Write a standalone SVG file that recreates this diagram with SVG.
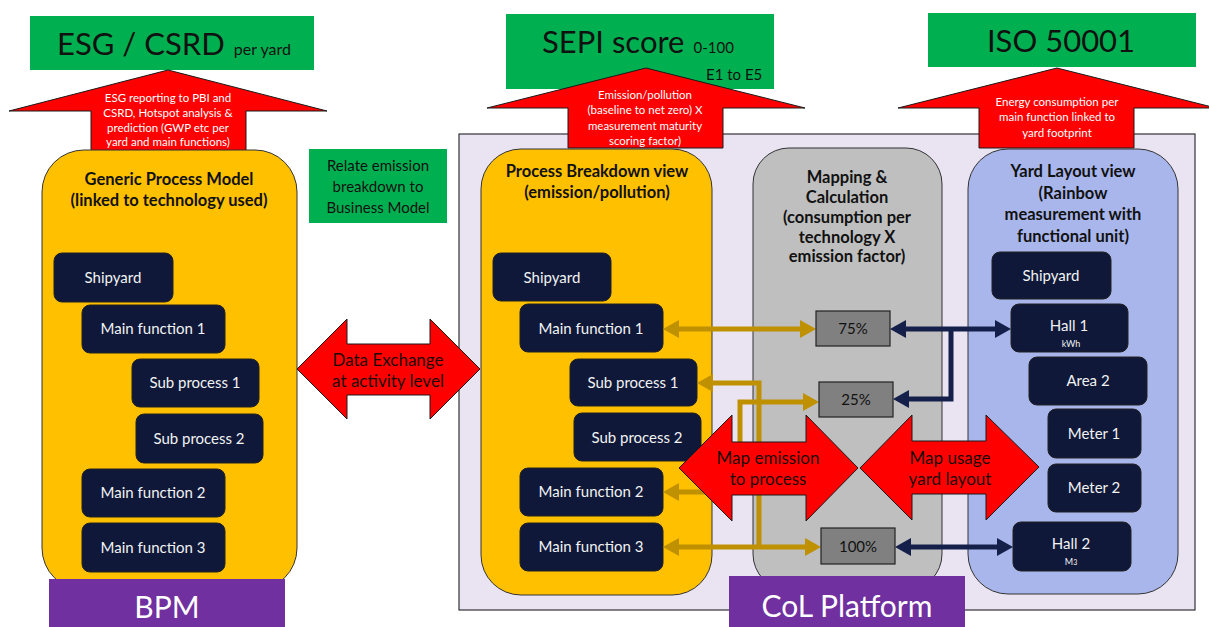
<svg xmlns="http://www.w3.org/2000/svg" width="1209" height="627" viewBox="0 0 1209 627">
  <style>
    text { font-family: "Lato", "Liberation Sans", sans-serif; }
    .green { fill: #00B050; }
    .upArrow { fill: #FF0000; stroke: #1a1a1a; stroke-width: 1; }
    .dblArrow { fill: #FF0000; stroke: #1a1a1a; stroke-width: 1; }
    .arrowTxt { fill: #FFFFFF; font-size: 11.5px; text-anchor: middle; }
    .bigTxt { fill: #111111; font-size: 31px; }
    .midTxt { fill: #111111; font-size: 15px; }
    .title { fill: #111111; font-size: 16.5px; font-weight: bold; text-anchor: middle; }
    .node rect { fill: #0F1839; stroke: #222222; stroke-width: 1; }
    .node text { fill: #F2F2F2; font-size: 15px; text-anchor: middle; }
    .node text.unit { font-size: 9px; }
    .pct rect { fill: #808080; stroke: #222222; stroke-width: 1.2; }
    .pct text { fill: #111111; font-size: 15px; text-anchor: middle; }
    .dblTxt { fill: #1a0a0a; font-size: 17px; text-anchor: middle; }
    .purple { fill: #7030A0; }
    .purpleTxt { fill: #FFFFFF; font-size: 30px; text-anchor: middle; }
    .gold { fill: none; stroke: #BF9000; stroke-width: 5; }
    .navy { fill: none; stroke: #14204A; stroke-width: 5; }
  </style>
  <defs>
    <marker id="headGold" markerUnits="userSpaceOnUse" markerWidth="18" markerHeight="20" refX="2" refY="10" orient="auto-start-reverse">
      <path d="M0,1 L16,10 L0,19 z" fill="#BF9000"/>
    </marker>
    <marker id="headNavy" markerUnits="userSpaceOnUse" markerWidth="18" markerHeight="20" refX="2" refY="10" orient="auto-start-reverse">
      <path d="M0,1 L16,10 L0,19 z" fill="#14204A"/>
    </marker>
  </defs>

  <rect x="0" y="0" width="1209" height="627" fill="#FFFFFF"/>

  <!-- platform background -->
  <rect x="459" y="134" width="736" height="476" fill="#EAE4F2" stroke="#333333" stroke-width="1.2"/>

  <!-- standards headers -->
  <g id="esg">
    <rect class="green" x="30" y="16" width="284" height="54"/>
    <text class="bigTxt" x="57" y="55">ESG / CSRD<tspan font-size="16px" dx="9">per yard</tspan></text>
  </g>
  <g id="sepi">
    <rect class="green" x="506" y="14" width="268" height="75"/>
    <text class="bigTxt" x="542" y="53">SEPI score<tspan font-size="15px" dx="9">0-100</tspan></text>
    <text class="midTxt" x="706" y="80">E1 to E5</text>
  </g>
  <g id="iso">
    <rect class="green" x="928" y="13" width="268" height="54"/>
    <text class="bigTxt" x="1061" y="52" text-anchor="middle">ISO 50001</text>
  </g>

  <!-- upward reporting arrows -->
  <g id="arrow-esg">
    <polygon class="upArrow" points="168,70 327,111 246,111 246,152 91,152 91,111 9,111"/>
    <text class="arrowTxt" x="168" y="102">ESG reporting to PBI and</text>
    <text class="arrowTxt" x="168" y="117">CSRD, Hotspot analysis &amp;</text>
    <text class="arrowTxt" x="168" y="132">prediction (GWP etc per</text>
    <text class="arrowTxt" x="168" y="146">yard and main functions)</text>
  </g>
  <g id="arrow-sepi">
    <polygon class="upArrow" points="646,68 805,108 723,108 723,148 568,148 568,108 487,108"/>
    <text class="arrowTxt" x="645" y="99">Emission/pollution</text>
    <text class="arrowTxt" x="645" y="114">(baseline to net zero) X</text>
    <text class="arrowTxt" x="645" y="130">measurement maturity</text>
    <text class="arrowTxt" x="645" y="145">scoring factor)</text>
  </g>
  <g id="arrow-iso">
    <polygon class="upArrow" points="1057,68 1216,108 1134,108 1134,148 979,148 979,108 898,108"/>
    <text class="arrowTxt" x="1057" y="106">Energy consumption per</text>
    <text class="arrowTxt" x="1057" y="121">main function linked to</text>
    <text class="arrowTxt" x="1057" y="137">yard footprint</text>
  </g>

  <!-- generic process model -->
  <g id="generic-process-model">
    <rect x="42" y="150" width="255" height="440" rx="42" fill="#FFC000" stroke="#333333" stroke-width="1"/>
    <text class="title" x="169" y="185">Generic Process Model</text>
    <text class="title" x="169" y="206">(linked to technology used)</text>
  </g>
  <g id="gpm-shipyard" class="node"><rect x="54" y="253" width="119" height="49" rx="8"/><text x="113" y="283">Shipyard</text></g>
  <g id="gpm-main1" class="node"><rect x="82" y="305" width="143" height="48" rx="8"/><text x="153" y="334">Main function 1</text></g>
  <g id="gpm-sub1" class="node"><rect x="132" y="359" width="127" height="48" rx="8"/><text x="195" y="388">Sub process 1</text></g>
  <g id="gpm-sub2" class="node"><rect x="136" y="414" width="127" height="49" rx="8"/><text x="199" y="444">Sub process 2</text></g>
  <g id="gpm-main2" class="node"><rect x="82" y="469" width="143" height="48" rx="8"/><text x="153" y="498">Main function 2</text></g>
  <g id="gpm-main3" class="node"><rect x="82" y="523" width="143" height="49" rx="8"/><text x="153" y="553">Main function 3</text></g>

  <g id="bpm">
    <rect class="purple" x="49" y="579" width="236" height="48"/>
    <text class="purpleTxt" x="167" y="618">BPM</text>
  </g>

  <g id="relate-note">
    <rect class="green" x="309" y="149" width="138" height="74"/>
    <text class="midTxt" x="378" y="171" font-size="16px" text-anchor="middle">Relate emission</text>
    <text class="midTxt" x="378" y="192" font-size="16px" text-anchor="middle">breakdown to</text>
    <text class="midTxt" x="378" y="213" font-size="16px" text-anchor="middle">Business Model</text>
  </g>

  <g id="data-exchange">
    <polygon class="dblArrow" points="297,369 347,319 347,344 430,344 430,319 480,369 430,419 430,395 347,395 347,419"/>
    <text class="dblTxt" x="388" y="366">Data Exchange</text>
    <text class="dblTxt" x="388" y="387">at activity level</text>
  </g>

  <!-- process breakdown view -->
  <g id="process-breakdown">
    <rect x="481" y="149" width="231" height="446" rx="40" fill="#FFC000" stroke="#333333" stroke-width="1"/>
    <text class="title" x="597" y="177">Process Breakdown view</text>
    <text class="title" x="597" y="198">(emission/pollution)</text>
  </g>
  <g id="pb-shipyard" class="node"><rect x="493" y="253" width="118" height="48" rx="8"/><text x="552" y="283">Shipyard</text></g>
  <g id="pb-main1" class="node"><rect x="520" y="304" width="143" height="48" rx="8"/><text x="591" y="334">Main function 1</text></g>
  <g id="pb-sub1" class="node"><rect x="570" y="359" width="127" height="47" rx="8"/><text x="633" y="388">Sub process 1</text></g>
  <g id="pb-sub2" class="node"><rect x="574" y="413" width="127" height="48" rx="8"/><text x="637" y="443">Sub process 2</text></g>
  <g id="pb-main2" class="node"><rect x="520" y="468" width="143" height="48" rx="8"/><text x="591" y="497">Main function 2</text></g>
  <g id="pb-main3" class="node"><rect x="520" y="523" width="143" height="48" rx="8"/><text x="591" y="552">Main function 3</text></g>

  <!-- mapping & calculation -->
  <g id="mapping">
    <rect x="753" y="148" width="189" height="442" rx="36" fill="#BFBFBF" stroke="#333333" stroke-width="1"/>
    <text class="title" x="847" y="183">Mapping &amp;</text>
    <text class="title" x="847" y="203">Calculation</text>
    <text class="title" x="847" y="223">(consumption per</text>
    <text class="title" x="847" y="243">technology X</text>
    <text class="title" x="847" y="262">emission factor)</text>
  </g>

  <!-- yard layout view -->
  <g id="yard-layout">
    <rect x="968" y="149" width="210" height="445" rx="40" fill="#A9B6EC" stroke="#333333" stroke-width="1"/>
    <text class="title" x="1073" y="177">Yard Layout view</text>
    <text class="title" x="1073" y="199">(Rainbow</text>
    <text class="title" x="1073" y="220">measurement with</text>
    <text class="title" x="1073" y="242">functional unit)</text>
  </g>
  <g id="yl-shipyard" class="node"><rect x="992" y="252" width="119" height="47" rx="8"/><text x="1051" y="281">Shipyard</text></g>
  <g id="yl-hall1" class="node"><rect x="1011" y="304" width="117" height="48" rx="8"/><text x="1069" y="331">Hall 1</text><text class="unit" x="1071" y="347">kWh</text></g>
  <g id="yl-area2" class="node"><rect x="1029" y="357" width="118" height="48" rx="8"/><text x="1088" y="386">Area 2</text></g>
  <g id="yl-meter1" class="node"><rect x="1048" y="409" width="93" height="49" rx="8"/><text x="1094" y="439">Meter 1</text></g>
  <g id="yl-meter2" class="node"><rect x="1048" y="464" width="93" height="48" rx="8"/><text x="1094" y="493">Meter 2</text></g>
  <g id="yl-hall2" class="node"><rect x="1013" y="522" width="118" height="49" rx="8"/><text x="1071" y="549">Hall 2</text><text class="unit" x="1071" y="565">M<tspan font-size="7px">3</tspan></text></g>

  <!-- connectors -->
  <g id="connectors">
    <path class="gold" d="M677,329 H802" marker-start="url(#headGold)" marker-end="url(#headGold)"/>
    <path class="gold" d="M711,383 H759 V547" marker-start="url(#headGold)"/>
    <path class="gold" d="M677,492 H740 V402 H805" marker-start="url(#headGold)" marker-end="url(#headGold)"/>
    <path class="gold" d="M677,547 H807" marker-start="url(#headGold)" marker-end="url(#headGold)"/>
    <path class="navy" d="M904,329 H997" marker-start="url(#headNavy)" marker-end="url(#headNavy)"/>
    <path class="navy" d="M951,329 V399 H907" marker-end="url(#headNavy)"/>
    <path class="navy" d="M909,547 H999" marker-start="url(#headNavy)" marker-end="url(#headNavy)"/>
  </g>

  <g id="pct-75" class="pct"><rect x="816" y="311" width="74" height="35"/><text x="853" y="334">75%</text></g>
  <g id="pct-25" class="pct"><rect x="819" y="382" width="74" height="35"/><text x="856" y="405">25%</text></g>
  <g id="pct-100" class="pct"><rect x="821" y="528" width="74" height="36"/><text x="858" y="552">100%</text></g>

  <g id="map-emission">
    <polygon class="dblArrow" points="679,468 732,415 732,442 806,442 806,415 858,468 806,521 806,495 732,495 732,521"/>
    <text class="dblTxt" x="768" y="464">Map emission</text>
    <text class="dblTxt" x="768" y="485">to process</text>
  </g>
  <g id="map-usage">
    <polygon class="dblArrow" points="860,468 912,415 912,441 986,441 986,415 1039,467 986,520 986,494 912,494 912,520"/>
    <text class="dblTxt" x="950" y="464">Map usage</text>
    <text class="dblTxt" x="950" y="485">yard layout</text>
  </g>

  <g id="col-platform">
    <rect class="purple" x="729" y="576" width="236" height="51"/>
    <text class="purpleTxt" x="847" y="617">CoL Platform</text>
  </g>
</svg>
